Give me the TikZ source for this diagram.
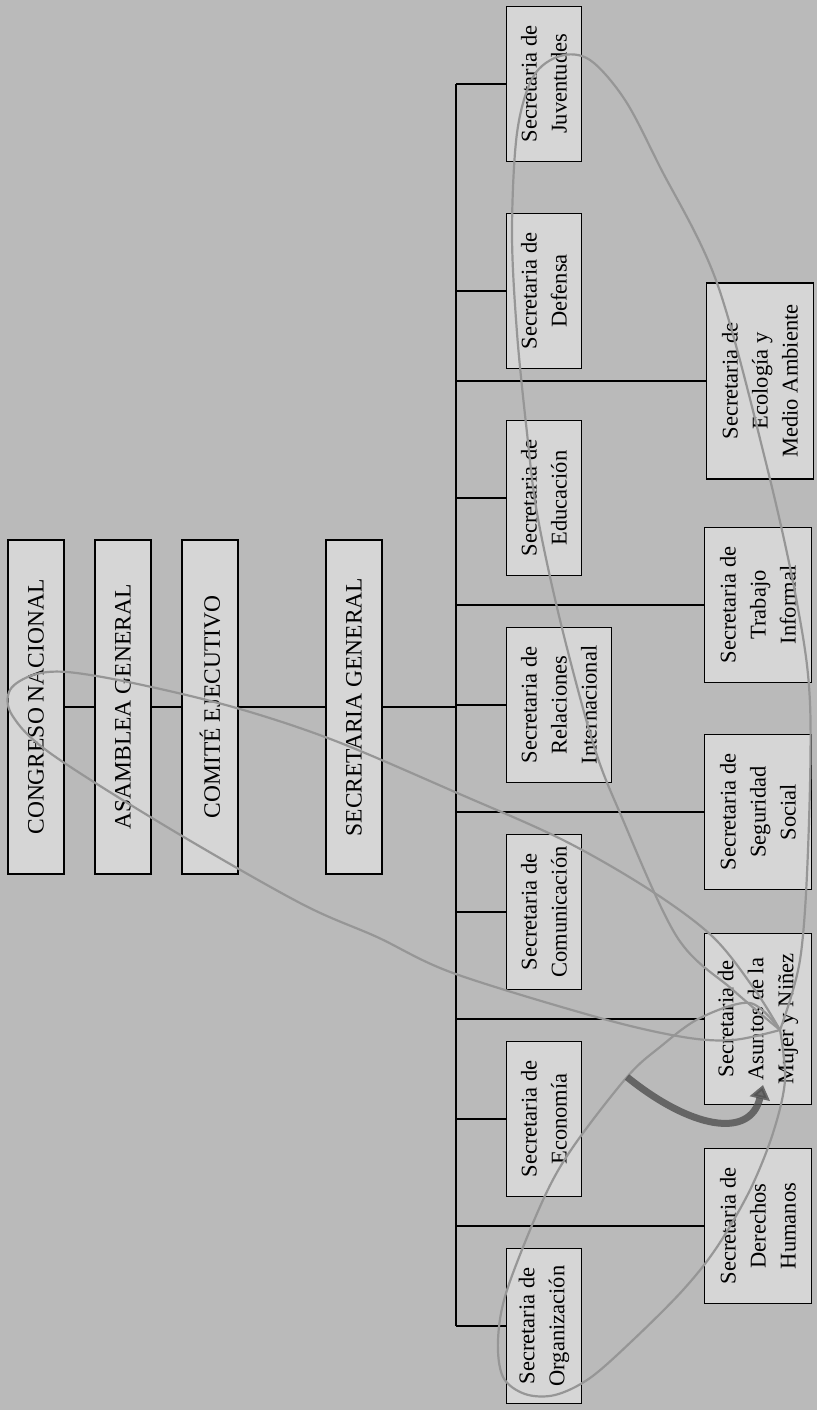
\documentclass[tikz,border=0pt]{standalone}
\usepackage{fontspec}
\setmainfont{Liberation Serif}
\usetikzlibrary{positioning,arrows.meta}
\definecolor{paper}{RGB}{186,186,186}
\definecolor{boxfill}{RGB}{214,214,214}
\definecolor{pencil}{RGB}{150,150,150}
\definecolor{smudge}{RGB}{80,80,80}
\tikzset{
  organ/.style={draw, rectangle, rotate=90, fill=boxfill, line width=1.6pt,
    minimum width=334pt, minimum height=56pt, inner sep=2pt,
    font=\fontsize{23.5pt}{30pt}\selectfont},
  unit/.style={draw, rectangle, rotate=90, fill=boxfill, line width=1.6pt,
    minimum width=155pt, minimum height=75pt, inner sep=2pt, align=center,
    font=\fontsize{22.5pt}{30pt}\selectfont},
  wideunit/.style={unit, minimum height=107pt},
  link/.style={line width=1.4pt},
  bus/.style={line width=2.6pt},
  scribble/.style={pencil, line width=2.2pt, line cap=round, line join=round}
}
\begin{document}
\begin{tikzpicture}[x=1pt,y=-1pt,node distance=207pt,on grid]
    \useasboundingbox (0,0) rectangle (817,1410);
    \fill[paper] (0,0) rectangle (817,1410);

    % Governing bodies
    \node [organ] (congreso) at (36,707) {CONGRESO NACIONAL};
    \node [organ, right=87pt of congreso] (asamblea) {ASAMBLEA GENERAL};
    \node [organ, right=87pt of asamblea] (comite) {COMITÉ EJECUTIVO};
    \node [organ, right=144pt of comite] (secgen) {SECRETARIA GENERAL};

    % Secretarias, first column
    \node [unit] (juventudes) at (544,84) {Secretaria de\\Juventudes};
    \node [unit, below=of juventudes] (defensa) {Secretaria de\\Defensa};
    \node [unit, below=of defensa] (educacion) {Secretaria de\\Educación};
    \node [unit, minimum height=105pt, below right=207pt and 15pt of educacion] (relaciones) {Secretaria de\\Relaciones\\Internacional};
    \node [unit, below left=207pt and 15pt of relaciones] (comunicacion) {Secretaria de\\Comunicación};
    \node [unit, below=of comunicacion] (economia) {Secretaria de\\Economía};
    \node [unit, below=of economia] (organizacion) {Secretaria de\\Organización};

    % Secretarias, second column
    \node [wideunit, minimum width=196pt] (ecologia) at (760,381) {Secretaria de\\Ecología y\\Medio Ambiente};
    \node [wideunit] (trabajo) at (758,605) {Secretaria de\\Trabajo\\Informal};
    \node [wideunit, below=of trabajo] (seguridad) {Secretaria de\\Seguridad\\Social};
    \node [wideunit, minimum width=171pt, below=of seguridad] (asuntos) {Secretaria de\\Asuntos de la\\Mujer y Niñez};
    \node [wideunit, below=of asuntos] (derechos) {Secretaria de\\Derechos\\Humanos};

    \coordinate (busTop) at (456,84);
    \coordinate (busBot) at (busTop |- organizacion);

    % Lines
    \draw [link] (congreso) -- (asamblea) -- (comite) -- (secgen) -- (secgen -| busTop);
    \draw [bus] (busTop) -- (busBot);
    \draw [link] (juventudes -| busTop) -- (juventudes);
    \draw [link] (defensa -| busTop) -- (defensa);
    \draw [link] (educacion -| busTop) -- (educacion);
    \draw [link] (relaciones -| busTop) -- (relaciones);
    \draw [link] (comunicacion -| busTop) -- (comunicacion);
    \draw [link] (economia -| busTop) -- (economia);
    \draw [link] (organizacion -| busTop) -- (organizacion);
    \draw [link] (ecologia -| busTop) -- (ecologia);
    \draw [link] (trabajo -| busTop) -- (trabajo);
    \draw [link] (seguridad -| busTop) -- (seguridad);
    \draw [link] (asuntos -| busTop) -- (asuntos);
    \draw [link] (derechos -| busTop) -- (derechos);

    % Pencil loops
    \draw [scribble] plot [smooth, tension=0.55] coordinates {(780,1030) (733,1040) (683,1037) (600,1018) (453,973) (377,937) (300,903) (167,827) (50,753) (12,715) (10,690) (33,675) (67,672) (133,683) (233,707) (333,740) (455,792) (563,840) (650,890) (713,937) (755,990) (780,1030)};
    \draw [scribble] plot [smooth, tension=0.55] coordinates {(780,1030) (733,990) (677,937) (620,813) (593,743) (560,620) (537,513) (527,433) (517,333) (512,233) (517,133) (533,77) (560,56) (590,60) (625,100) (660,167) (717,283) (767,467) (797,603) (810,703) (808,850) (800,960) (780,1030)};
    \draw [scribble] plot [smooth, tension=0.55] coordinates {(780,1030) (750,1003) (700,1018) (660,1047) (627,1077) (573,1147) (543,1200) (507,1290) (498,1340) (503,1377) (525,1394) (555,1395) (590,1378) (633,1340) (683,1290) (717,1247) (750,1190) (773,1133) (785,1080) (780,1030)};
    \draw [smudge, opacity=0.8, line width=7pt, -{Triangle[width=20pt,length=14pt]}] (627,1077) .. controls (690,1128) and (750,1140) .. (763,1085);
\end{tikzpicture}
\end{document}
